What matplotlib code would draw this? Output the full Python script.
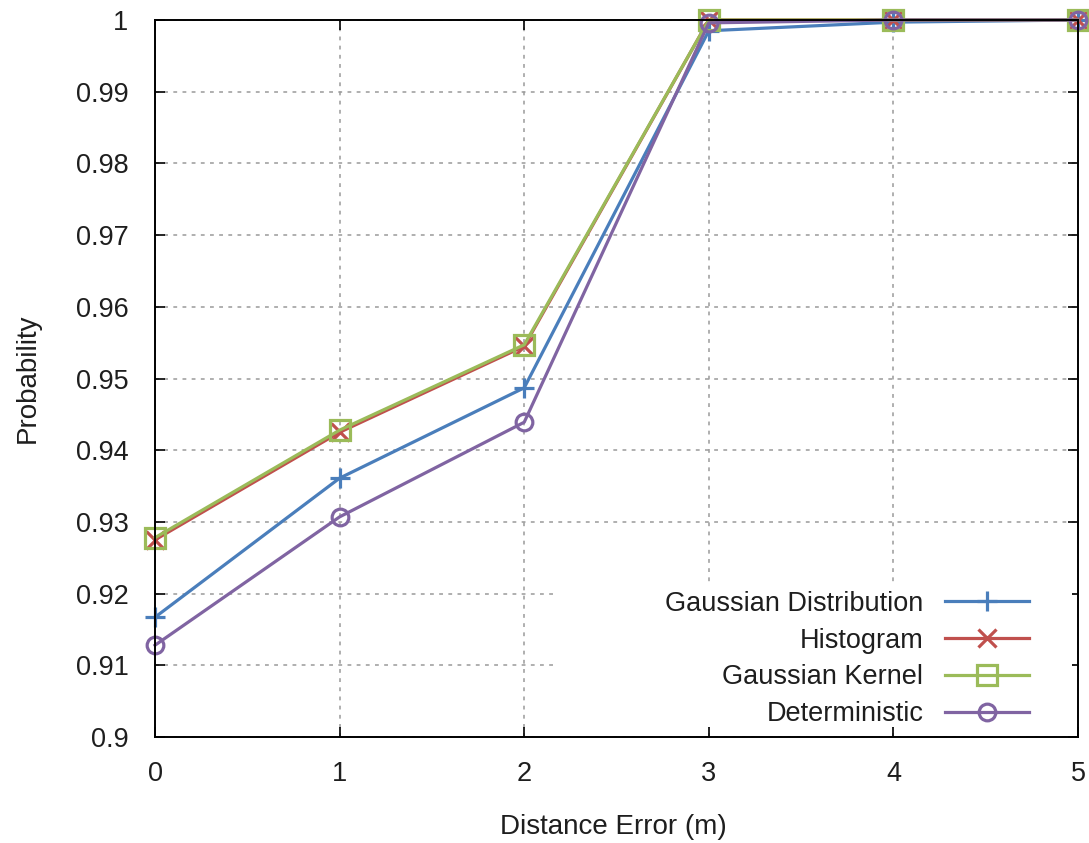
import matplotlib
matplotlib.use("Agg")
import matplotlib.pyplot as plt
from matplotlib.patches import Rectangle

x_vals = [0, 1, 2, 3, 4, 5]
gaussian_dist = [0.9167, 0.9361, 0.9487, 0.9985, 0.9997, 1.0]
histogram = [0.9275, 0.9425, 0.9545, 1.0, 1.0, 1.0]
gaussian_kernel = [0.9278, 0.9428, 0.9547, 1.0, 1.0, 1.0]
deterministic = [0.9128, 0.9307, 0.9439, 0.9996, 1.0, 1.0]

y_ticks = [0.9, 0.91, 0.92, 0.93, 0.94, 0.95, 0.96, 0.97, 0.98, 0.99, 1.0]
y_tick_labels = ["0.9", "0.91", "0.92", "0.93", "0.94", "0.95", "0.96", "0.97", "0.98", "0.99", "1"]
x_tick_labels = ["0", "1", "2", "3", "4", "5"]

plt.rcParams['font.family'] = ['Liberation Sans', 'DejaVu Sans']
FS = 19.5
TXT = "#1e1e1e"

fig = plt.figure(figsize=(10.89, 8.43), dpi=100)
ax = fig.add_axes([155/1089, 106/843, 923/1089, 717/843])

series = [
    ("Gaussian Distribution", gaussian_dist, "#4a7ebb", "+", 15),
    ("Histogram", histogram, "#c0504d", "x", 13),
    ("Gaussian Kernel", gaussian_kernel, "#9bbb59", "s", 14),
    ("Deterministic", deterministic, "#8064a2", "o", 12),
]
for name, vals, col, mk, ms in series:
    ax.plot(x_vals, vals, color=col, lw=2.3, marker=mk, ms=ms, mew=2.3,
            mfc="none", mec=col, label=name, clip_on=False, zorder=3)

ax.set_xlim(0, 5)
ax.set_ylim(0.9, 1.0)
ax.set_xticks(x_vals)
ax.set_xticklabels(x_tick_labels, fontsize=FS, color=TXT)
ax.set_yticks(y_ticks)
ax.set_yticklabels(y_tick_labels, fontsize=FS, color=TXT)
ax.tick_params(axis='both', direction='in', length=7, width=1.2, top=True, right=True)
ax.tick_params(axis='x', pad=17)
ax.tick_params(axis='y', pad=19)

ax.grid(True, color="#9a9a9a", linestyle=(0, (2.5, 3.5)), linewidth=1.1, zorder=0)
ax.set_axisbelow(True)
for s in ax.spines.values():
    s.set_linewidth(1.4)
    s.set_zorder(4)

ax.set_xlabel("Distance Error (m)", fontsize=FS + 0.5, color=TXT)
ax.xaxis.set_label_coords(0.497, -0.108)
ax.set_ylabel("Probability", fontsize=FS + 0.5, color=TXT)
ax.yaxis.set_label_coords(-0.124, 0.50)

# white background behind the key (as in the gnuplot original)
ax.add_patch(Rectangle(((555-155)/923, (737-727)/717), (1072-555)/923, (727-583)/717,
                       transform=ax.transAxes, facecolor="white", edgecolor="none", zorder=1))

leg = ax.legend(loc="center right", bbox_to_anchor=((1029-155)/923, (737-659)/717),
                frameon=False, markerfirst=False, fontsize=FS, handlelength=3.1,
                handletextpad=0.8, labelspacing=0.4, borderpad=0, borderaxespad=0)
for t in leg.get_texts():
    t.set_color(TXT)

fig.savefig("out.png", dpi=100)
